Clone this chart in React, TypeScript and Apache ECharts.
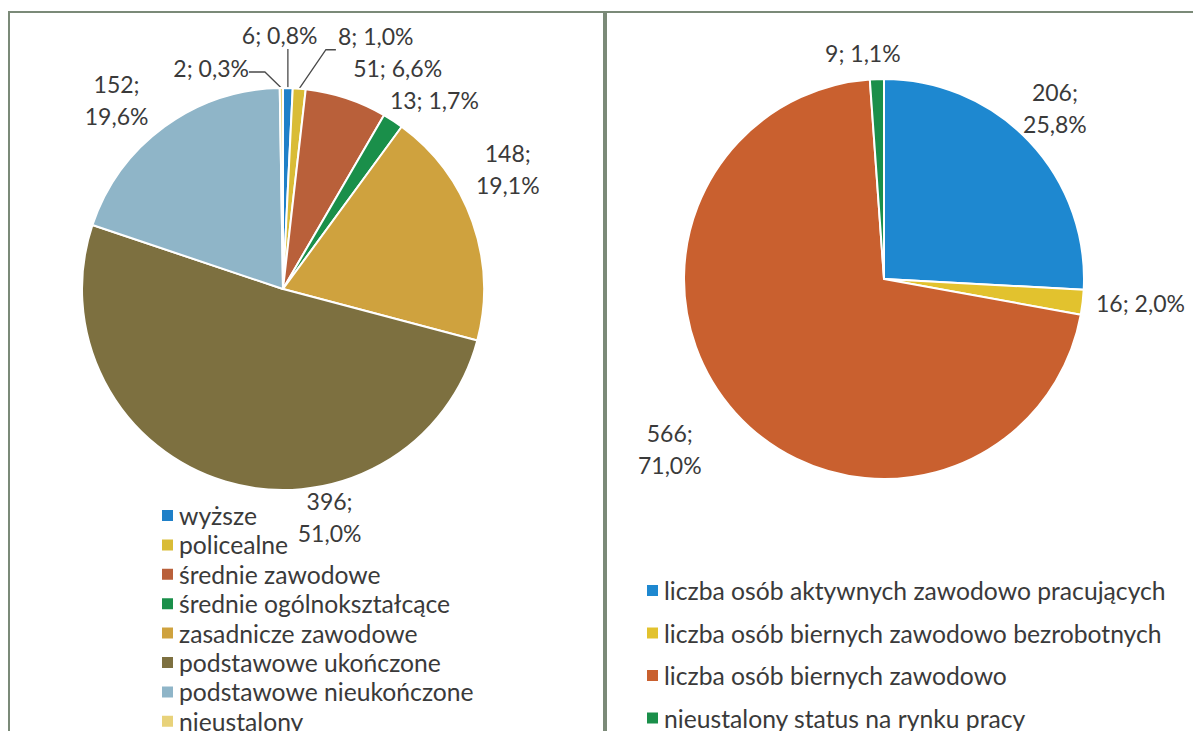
import React, { useEffect, useRef } from "react";
import * as echarts from "echarts";

const eduCategories = [
  "wyższe",
  "policealne",
  "średnie zawodowe",
  "średnie ogólnokształcące",
  "zasadnicze zawodowe",
  "podstawowe ukończone",
  "podstawowe nieukończone",
  "nieustalony",
];
const eduValues = [6, 8, 51, 13, 148, 396, 152, 2];
const eduColors = ["#1f80c8", "#d9bc36", "#b9603a", "#1a8f4a", "#cfa23e", "#7d7040", "#8fb5c8", "#e8d27a"];

const statusCategories = [
  "liczba osób aktywnych zawodowo pracujących",
  "liczba osób biernych zawodowo bezrobotnych",
  "liczba osób biernych zawodowo",
  "nieustalony status na rynku pracy",
];
const statusValues = [206, 16, 566, 9];
const statusColors = ["#1e88d0", "#e2c22e", "#c9602f", "#1a8f4a"];

const FONT = "Lato, 'Open Sans', sans-serif";
const TEXT = "#3a3a3a";

// layout
const PIES = [
  { center: [283, 289], r: 201, values: eduValues, nudge: [[-9, -23], [74, -23], [42, -2], [25, 4], [7, -43], [113, 7], [-30, -3], [-70, 10]], lines: [0, 1, 7] },
  { center: [884, 279], r: 200, values: statusValues, nudge: [[4, -13], [28, -3], [-43, 16], [-13, 4]], lines: [] as number[] },
];
const GAP = 30;

function sum(a: number[]) {
  return a.reduce((s, v) => s + v, 0);
}
function midDir(values: number[], i: number) {
  const total = sum(values);
  let cum = 0;
  for (let k = 0; k < i; k++) cum += values[k];
  const th = ((cum + values[i] / 2) / total) * Math.PI * 2;
  return [Math.sin(th), -Math.cos(th)];
}

function fmt(p: any) {
  const vals = PIES[p.seriesIndex].values;
  const pctNum = (p.value / sum(vals)) * 100;
  const pct = pctNum.toFixed(1).replace(".", ",");
  const sep = pctNum >= 10 ? ";\n" : "; ";
  return p.value + sep + pct + "%";
}

export default function App() {
  const ref = useRef<HTMLDivElement>(null);
  useEffect(() => {
    document.body.style.margin = "0";
    const chart = echarts.init(ref.current!, undefined, { renderer: "svg" });
    const labelBase = {
      show: true,
      position: "outside",
      formatter: fmt,
      fontFamily: FONT,
      fontSize: 23,
      color: TEXT,
      lineHeight: 32,
      align: "center",
    };
    const labelLayout = (params: any) => {
      const pie = PIES[params.seriesIndex];
      const i = params.dataIndex;
      const [dx, dy] = midDir(pie.values, i);
      const cx = pie.center[0] + dx * (pie.r + GAP) + pie.nudge[i][0];
      const cy = pie.center[1] + dy * (pie.r + GAP) + pie.nudge[i][1];
      const w = params.labelRect.width;
      const h = params.labelRect.height;
      const res: any = { x: cx, y: cy, align: "center", verticalAlign: "middle" };
      if (pie.lines.includes(i)) {
        const ex = pie.center[0] + dx * pie.r;
        const ey = pie.center[1] + dy * pie.r;
        const top = cy + h / 2 - 2;
        if (ex < cx - w / 2) {
          res.labelLinePoints = [[ex, ey], [cx - w / 2 - 12, top], [cx - w / 2 - 2, top]];
        } else if (ex > cx + w / 2) {
          res.labelLinePoints = [[ex, ey], [cx + w / 2 + 16, cy + 4], [cx + w / 2, cy + 4]];
        } else {
          res.labelLinePoints = [[ex, ey], [ex, top], [ex, top]];
        }
      }
      return res;
    };
    const mk = (names: string[], vals: number[], colors: string[], lines: number[]) =>
      names.map((n, i) => ({
        name: n,
        value: vals[i],
        itemStyle: { color: colors[i] },
        labelLine: { show: lines.includes(i) },
      }));
    const legendText = { fontFamily: FONT, fontSize: 24.7, color: TEXT, lineHeight: 22 };
    chart.setOption({
      animation: false,
      backgroundColor: "#ffffff",
      graphic: [
        { type: "rect", shape: { x: 9, y: 12, width: 595, height: 760 }, style: { fill: "none", stroke: "#7b8a78", lineWidth: 2 } },
        { type: "rect", shape: { x: 606, y: 12, width: 620, height: 760 }, style: { fill: "none", stroke: "#7b8a78", lineWidth: 2 } },
      ],
      legend: [
        {
          data: eduCategories,
          orient: "vertical",
          left: 160,
          top: 503,
          height: 1000,
          icon: "rect",
          itemWidth: 13,
          itemHeight: 13,
          itemGap: 4.4,
          padding: 0,
          textStyle: legendText,
        },
        {
          data: statusCategories,
          orient: "vertical",
          left: 645,
          top: 578,
          height: 1000,
          icon: "rect",
          itemWidth: 13,
          itemHeight: 13,
          itemGap: 17.5,
          padding: 0,
          textStyle: legendText,
        },
      ],
      series: PIES.map((pie, s) => ({
        type: "pie",
        center: pie.center,
        radius: pie.r,
        startAngle: 90,
        clockwise: true,
        avoidLabelOverlap: false,
        itemStyle: { borderColor: "#ffffff", borderWidth: 2 },
        label: labelBase,
        labelLine: { show: true, length: 8, length2: 4, lineStyle: { color: "#4a4a4a", width: 1.3 } },
        labelLayout,
        data: s === 0
          ? mk(eduCategories, eduValues, eduColors, pie.lines)
          : mk(statusCategories, statusValues, statusColors, pie.lines),
      })),
    });
    return () => chart.dispose();
  }, []);
  return <div ref={ref} style={{ width: 1193, height: 731 }} />;
}
